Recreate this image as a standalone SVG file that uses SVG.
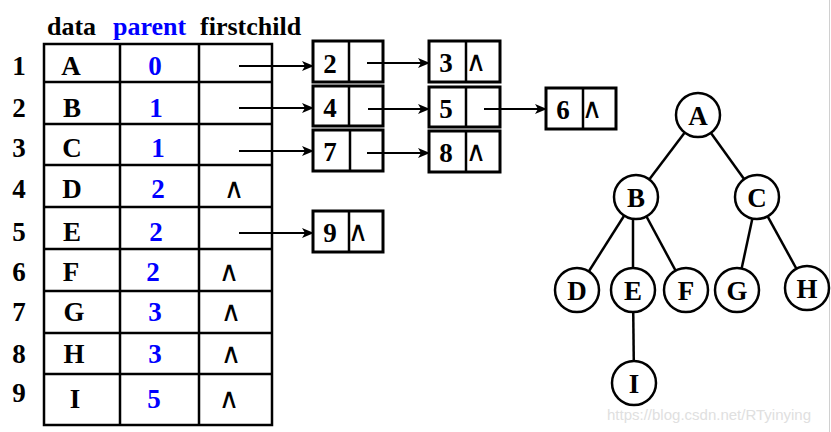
<svg xmlns="http://www.w3.org/2000/svg" width="831" height="432" viewBox="0 0 831 432">
<defs>
<marker id="ah" viewBox="0 0 12 10" refX="11" refY="5" markerWidth="12" markerHeight="10" markerUnits="userSpaceOnUse" orient="auto">
<path d="M0,0 L12,5 L0,10 L3,5 Z" fill="#000"/>
</marker>
<style>
.t{font-family:"Liberation Serif","Times New Roman",serif;font-weight:bold;font-size:27px;fill:#000;text-anchor:middle}
.h{font-family:"Liberation Serif","Times New Roman",serif;font-weight:bold;font-size:26px;fill:#000}
.b{fill:#0000ff}
.w{font-family:"DejaVu Sans",sans-serif;font-size:28px;fill:#000;text-anchor:middle}
.g{fill:none;stroke:#000;stroke-width:2.5}
.box{fill:#fff;stroke:#000;stroke-width:3}
.c{fill:#fff;stroke:#000;stroke-width:2.5}
.a{stroke:#000;stroke-width:2;fill:none;marker-end:url(#ah)}
.e{stroke:#000;stroke-width:2.5}
</style>
</defs>
<rect width="831" height="432" fill="#fff"/>
<line x1="829.5" y1="0" x2="829.5" y2="432" stroke="#d0d0d0" stroke-width="1"/>

<g id="table">
<text class="h" x="47" y="35">data</text>
<text class="h b" x="113" y="35">parent</text>
<text class="h" x="200" y="35">firstchild</text>
<rect x="44" y="44" width="228" height="381" class="g" stroke-width="3"/>
<line class="g" x1="120" y1="44" x2="120" y2="425"/>
<line class="g" x1="199" y1="44" x2="199" y2="425"/>
<line class="g" x1="44" y1="82" x2="272" y2="82"/>
<line class="g" x1="44" y1="124" x2="272" y2="124"/>
<line class="g" x1="44" y1="165" x2="272" y2="165"/>
<line class="g" x1="44" y1="207" x2="272" y2="207"/>
<line class="g" x1="44" y1="249" x2="272" y2="249"/>
<line class="g" x1="44" y1="291" x2="272" y2="291"/>
<line class="g" x1="44" y1="333" x2="272" y2="333"/>
<line class="g" x1="44" y1="374" x2="272" y2="374"/>
<text class="t" x="19" y="75">1</text><text class="t" x="71" y="75">A</text><text class="t b" x="155" y="75">0</text>
<text class="t" x="19" y="117">2</text><text class="t" x="72" y="117">B</text><text class="t b" x="156" y="117">1</text>
<text class="t" x="19" y="157">3</text><text class="t" x="72" y="157">C</text><text class="t b" x="158" y="157">1</text>
<text class="t" x="19" y="198">4</text><text class="t" x="72" y="198">D</text><text class="t b" x="158" y="198">2</text><text class="w" x="234" y="198">∧</text>
<text class="t" x="19" y="241">5</text><text class="t" x="72" y="241">E</text><text class="t b" x="156" y="241">2</text>
<text class="t" x="19" y="281">6</text><text class="t" x="71" y="281">F</text><text class="t b" x="153" y="281">2</text><text class="w" x="229" y="281">∧</text>
<text class="t" x="19" y="321">7</text><text class="t" x="74" y="321">G</text><text class="t b" x="155" y="321">3</text><text class="w" x="231" y="321">∧</text>
<text class="t" x="19" y="363">8</text><text class="t" x="74" y="363">H</text><text class="t b" x="155" y="363">3</text><text class="w" x="231" y="363">∧</text>
<text class="t" x="19" y="402">9</text><text class="t" x="75" y="408">I</text><text class="t b" x="154" y="408">5</text><text class="w" x="229" y="408">∧</text>
</g>

<g id="n2"><rect class="box" x="313" y="41" width="70" height="41"/><line class="e" x1="349" y1="41" x2="349" y2="82"/><text class="t" x="330" y="73">2</text></g>
<g id="n3"><rect class="box" x="429" y="41" width="71" height="41"/><line class="e" x1="466" y1="41" x2="466" y2="82"/><text class="t" x="446" y="72">3</text><text class="w" x="476" y="71">∧</text></g>
<g id="n4"><rect class="box" x="313" y="86" width="70" height="40"/><line class="e" x1="349" y1="86" x2="349" y2="126"/><text class="t" x="330" y="117">4</text></g>
<g id="n5"><rect class="box" x="429" y="87" width="71" height="40"/><line class="e" x1="466" y1="87" x2="466" y2="127"/><text class="t" x="446" y="118">5</text></g>
<g id="n6"><rect class="box" x="546" y="88" width="70" height="41"/><line class="e" x1="583" y1="88" x2="583" y2="129"/><text class="t" x="563" y="119">6</text><text class="w" x="592" y="118">∧</text></g>
<g id="n7"><rect class="box" x="313" y="130" width="70" height="41"/><line class="e" x1="350" y1="130" x2="350" y2="171"/><text class="t" x="330" y="161">7</text></g>
<g id="n8"><rect class="box" x="429" y="131" width="71" height="41"/><line class="e" x1="466" y1="131" x2="466" y2="172"/><text class="t" x="446" y="162">8</text><text class="w" x="476" y="161">∧</text></g>
<g id="n9"><rect class="box" x="313" y="211" width="70" height="41"/><line class="e" x1="349" y1="211" x2="349" y2="252"/><text class="t" x="330" y="242">9</text><text class="w" x="358" y="241">∧</text></g>

<g id="connectors">
<line class="a" x1="239" y1="66" x2="313" y2="66"/>
<line class="a" x1="239" y1="108" x2="313" y2="108"/>
<line class="a" x1="239" y1="151" x2="313" y2="151"/>
<line class="a" x1="239" y1="233" x2="313" y2="233"/>
<line class="a" x1="367" y1="63" x2="429" y2="63"/>
<line class="a" x1="368" y1="109" x2="429" y2="109"/>
<line class="a" x1="484" y1="109" x2="546" y2="109"/>
<line class="a" x1="367" y1="153" x2="429" y2="153"/>
<line class="e" x1="698" y1="115" x2="636" y2="197"/>
<line class="e" x1="698" y1="115" x2="757" y2="197"/>
<line class="e" x1="636" y1="197" x2="577" y2="290"/>
<line class="e" x1="633" y1="197" x2="633" y2="290"/>
<line class="e" x1="636" y1="197" x2="686" y2="290"/>
<line class="e" x1="757" y1="197" x2="737" y2="290"/>
<line class="e" x1="757" y1="197" x2="807" y2="288"/>
<line class="e" x1="633" y1="290" x2="634" y2="383"/>
</g>

<g id="tA"><circle class="c" cx="698" cy="115" r="22"/><text class="t" x="698" y="125">A</text></g>
<g id="tB"><circle class="c" cx="636" cy="197" r="22"/><text class="t" x="636" y="207">B</text></g>
<g id="tC"><circle class="c" cx="757" cy="197" r="22"/><text class="t" x="757" y="207">C</text></g>
<g id="tD"><circle class="c" cx="577" cy="290" r="22"/><text class="t" x="577" y="300">D</text></g>
<g id="tE"><circle class="c" cx="633" cy="290" r="22"/><text class="t" x="633" y="300">E</text></g>
<g id="tF"><circle class="c" cx="686" cy="290" r="22"/><text class="t" x="686" y="300">F</text></g>
<g id="tG"><circle class="c" cx="737" cy="290" r="22"/><text class="t" x="737" y="300">G</text></g>
<g id="tH"><circle class="c" cx="807" cy="288" r="22"/><text class="t" x="807" y="298">H</text></g>
<g id="tI"><circle class="c" cx="634" cy="383" r="22"/><text class="t" x="634" y="393">I</text></g>

<text x="607" y="420" font-family="Liberation Sans,Arial,sans-serif" font-size="15" fill="#e0e0e0">https://blog.csdn.net/RTyinying</text>
</svg>
